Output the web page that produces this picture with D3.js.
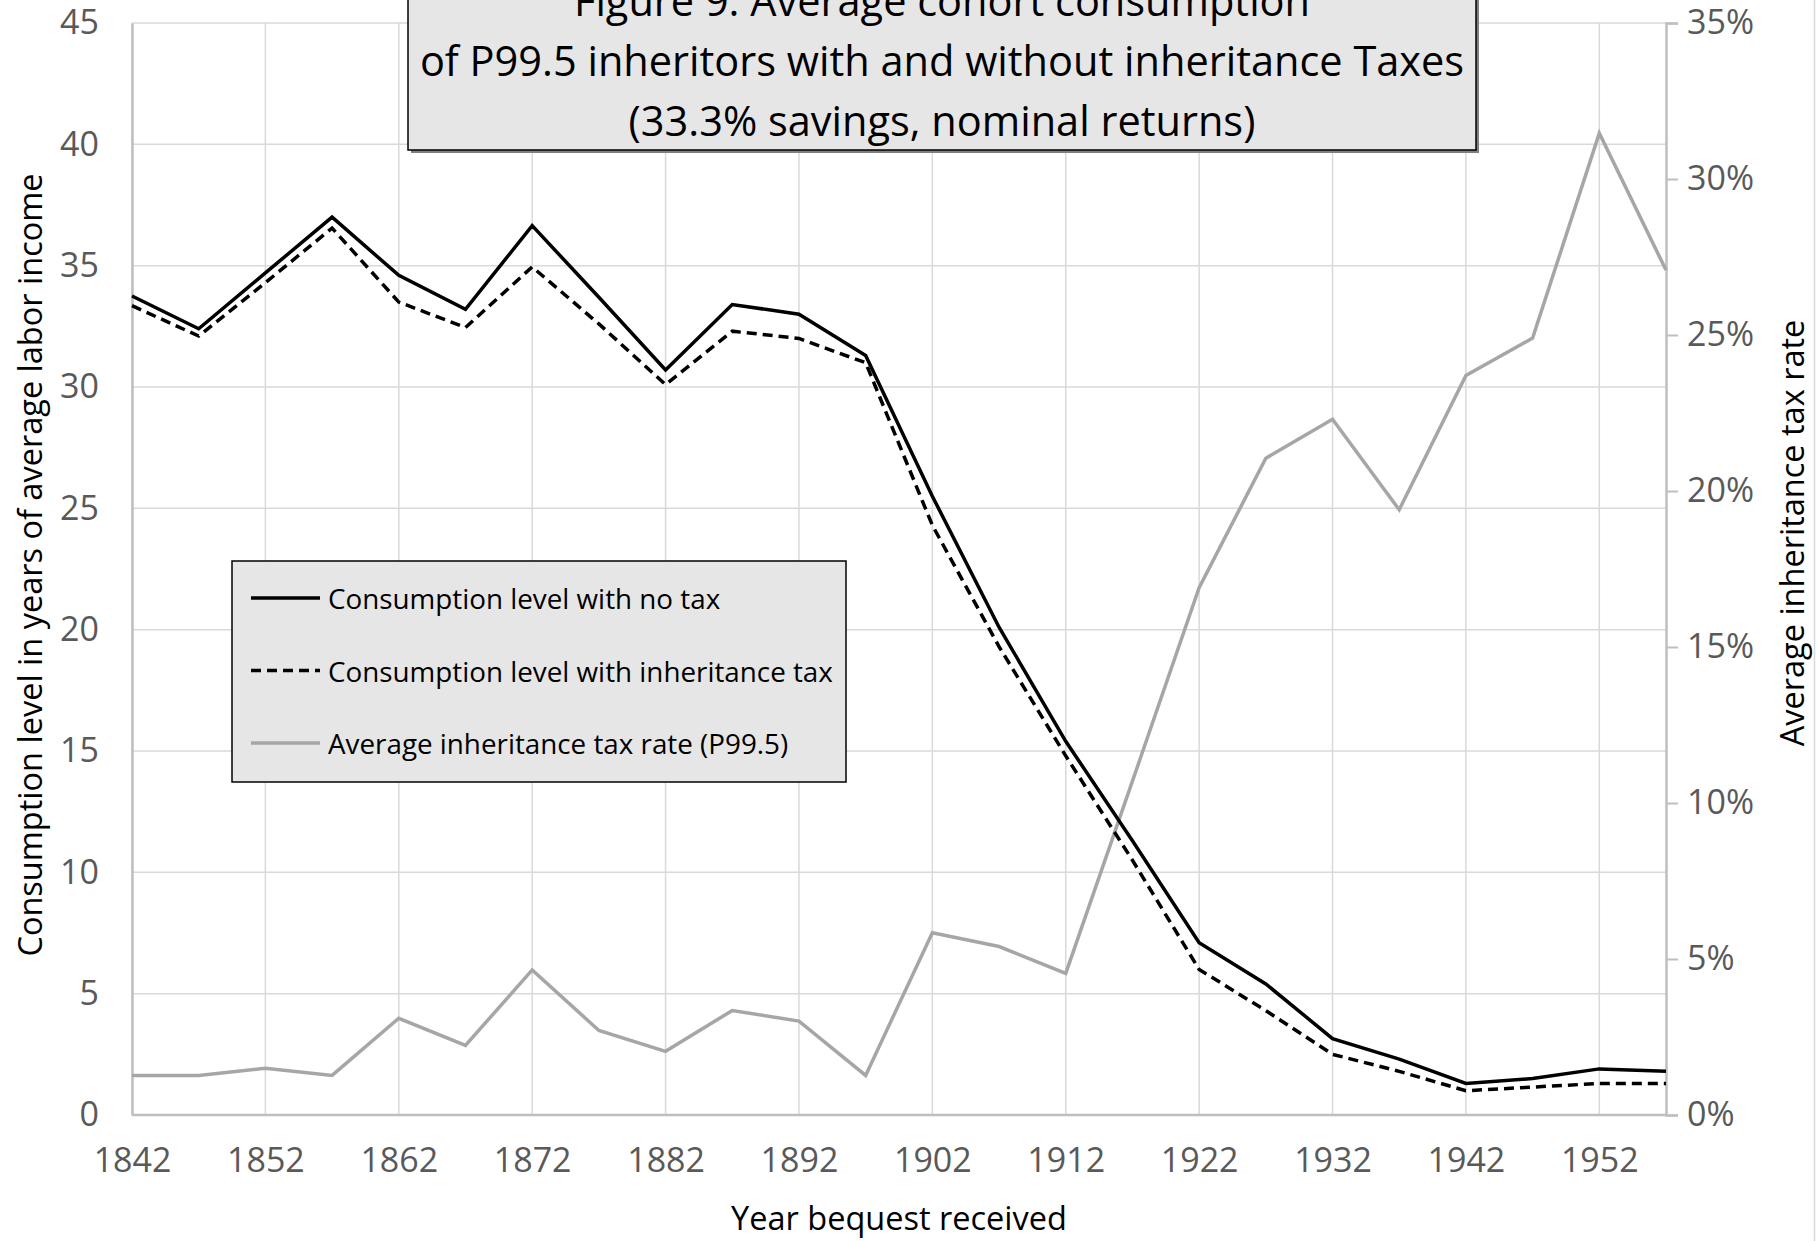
<!DOCTYPE html>
<html>
<head>
<meta charset="utf-8">
<title>Figure 9</title>
<script src="https://cdn.jsdelivr.net/npm/d3@7"></script>
<style>
  body { margin: 0; background: #fff; }
  svg { display: block; font-family: "Open Sans", sans-serif; }
</style>
</head>
<body>
<svg id="chart" width="1818" height="1241"></svg>
<script>
// data, one point every 5 years
const years = [1842, 1847, 1852, 1857, 1862, 1867, 1872, 1877, 1882, 1887, 1892, 1897,
               1902, 1907, 1912, 1917, 1922, 1927, 1932, 1937, 1942, 1947, 1952, 1957];
const noTax = [33.75, 32.4, 34.7, 37.0, 34.6, 33.2, 36.65, 33.7, 30.7, 33.4, 33.0, 31.3,
               25.5, 20.1, 15.4, 11.3, 7.1, 5.4, 3.15, 2.3, 1.3, 1.5, 1.9, 1.8];
const withTax = [33.35, 32.1, 34.3, 36.55, 33.5, 32.45, 34.95, 32.6, 30.1, 32.3, 32.0, 31.0,
                 24.3, 19.3, 14.8, 10.5, 6.0, 4.3, 2.5, 1.8, 1.0, 1.15, 1.3, 1.3];
const taxRate = [0.0127, 0.0127, 0.015, 0.0127, 0.031, 0.0223, 0.0465, 0.0271, 0.0204, 0.0335, 0.0301, 0.0127,
                 0.0584, 0.054, 0.0454, 0.107, 0.169, 0.2105, 0.223, 0.194, 0.237, 0.249, 0.3147, 0.2708];

const leftTicks = d3.range(0, 46, 5);
const rightTicks = d3.range(0, 0.351, 0.05);
const xTicks = d3.range(1842, 1953, 10);

const titleLines = ["Figure 9. Average cohort consumption",
                    "of P99.5 inheritors with and without inheritance Taxes",
                    "(33.3% savings, nominal returns)"];
const legendItems = [
  {label: "Consumption level with no tax", color: "#000", dash: null},
  {label: "Consumption level with inheritance tax", color: "#000", dash: "10,6"},
  {label: "Average inheritance tax rate (P99.5)", color: "#a6a6a6", dash: null}
];

const svg = d3.select("#chart");
const plotL = 132, plotR = 1666, plotT = 23, plotB = 1115;

const x = d3.scaleLinear().domain([1842, 1957]).range([plotL, plotR]);
const y = d3.scaleLinear().domain([0, 45]).range([plotB, plotT]);
const y2 = d3.scaleLinear().domain([0, 0.35]).range([plotB, plotT]);

// grid
svg.append("g").selectAll("line").data(leftTicks).join("line")
  .attr("x1", plotL).attr("x2", plotR)
  .attr("y1", d => y(d)).attr("y2", d => y(d))
  .attr("stroke", "#d9d9d9").attr("stroke-width", 1.5);
svg.append("g").selectAll("line").data(xTicks).join("line")
  .attr("x1", d => x(d)).attr("x2", d => x(d))
  .attr("y1", plotT).attr("y2", plotB)
  .attr("stroke", "#d9d9d9").attr("stroke-width", 1.5);

// axes
const gx = svg.append("g").attr("transform", `translate(0,${plotB})`)
  .call(d3.axisBottom(x).tickValues(xTicks).tickFormat(d3.format("d")).tickSize(0).tickPadding(33));
const gy = svg.append("g").attr("transform", `translate(${plotL},0)`)
  .call(d3.axisLeft(y).tickValues(leftTicks).tickSize(0).tickPadding(33));
const gy2 = svg.append("g").attr("transform", `translate(${plotR},0)`)
  .call(d3.axisRight(y2).tickValues(rightTicks).tickFormat(d3.format(".0%")).tickSize(12).tickPadding(9));

[gx, gy, gy2].forEach(g => {
  g.select(".domain").attr("stroke", "#bfbfbf").attr("stroke-width", 2.5);
  g.selectAll(".tick line").attr("stroke", "#bfbfbf").attr("stroke-width", 2);
  g.selectAll(".tick text").attr("fill", "#595959")
    .style("font-family", "Open Sans").style("font-size", "34px");
});
gx.select(".domain").attr("d", `M${plotL},0H${plotR}`);

// series
const lineL = vals => d3.line().x((d, i) => x(years[i])).y(d => y(d))(vals);
const lineR = d3.line().x((d, i) => x(years[i])).y(d => y2(d));

svg.append("path").attr("d", lineR(taxRate))
  .attr("fill", "none").attr("stroke", "#a6a6a6").attr("stroke-width", 3.5);
svg.append("path").attr("d", lineL(withTax))
  .attr("fill", "none").attr("stroke", "#000").attr("stroke-width", 3.5)
  .attr("stroke-dasharray", "10,6");
svg.append("path").attr("d", lineL(noTax))
  .attr("fill", "none").attr("stroke", "#000").attr("stroke-width", 3.5);

// axis titles
svg.append("text").attr("transform", "translate(29,565) rotate(-90)")
  .attr("text-anchor", "middle").attr("dominant-baseline", "central")
  .style("font-size", "32.5px").text("Consumption level in years of average labor income");
svg.append("text").attr("transform", "translate(1791,533) rotate(-90)")
  .attr("text-anchor", "middle").attr("dominant-baseline", "central")
  .style("font-size", "32.5px").text("Average inheritance tax rate");
svg.append("text").attr("x", 899).attr("y", 1217)
  .attr("text-anchor", "middle").attr("dominant-baseline", "central")
  .style("font-size", "32.5px").text("Year bequest received");

// title box
svg.append("rect").attr("x", 411).attr("y", -10).attr("width", 1068).attr("height", 163).attr("fill", "#7f7f7f");
svg.append("rect").attr("x", 408).attr("y", -10).attr("width", 1068).attr("height", 160)
  .attr("fill", "#e6e6e6").attr("stroke", "#000").attr("stroke-width", 1.5);
svg.append("g").selectAll("text").data(titleLines).join("text")
  .attr("x", 942).attr("y", (d, i) => 0 + i * 60)
  .attr("text-anchor", "middle").attr("dominant-baseline", "central")
  .style("font-size", "41.5px").text(d => d);

// legend
const lg = svg.append("g");
lg.append("rect").attr("x", 232).attr("y", 561).attr("width", 614).attr("height", 221)
  .attr("fill", "#e6e6e6").attr("stroke", "#000").attr("stroke-width", 1.5);
const li = lg.selectAll("g").data(legendItems).join("g")
  .attr("transform", (d, i) => `translate(0,${598 + i * 72.5})`);
li.append("line").attr("x1", 251).attr("x2", 320)
  .attr("stroke", d => d.color).attr("stroke-width", 3.5)
  .attr("stroke-dasharray", d => d.dash);
li.append("text").attr("x", 328).attr("dominant-baseline", "central")
  .style("font-size", "27.8px").text(d => d.label);

// outer border at the right edge
svg.append("line").attr("x1", 1814.5).attr("x2", 1814.5).attr("y1", 0).attr("y2", 1241)
  .attr("stroke", "#d9d9d9").attr("stroke-width", 1.5);
</script>
</body>
</html>
